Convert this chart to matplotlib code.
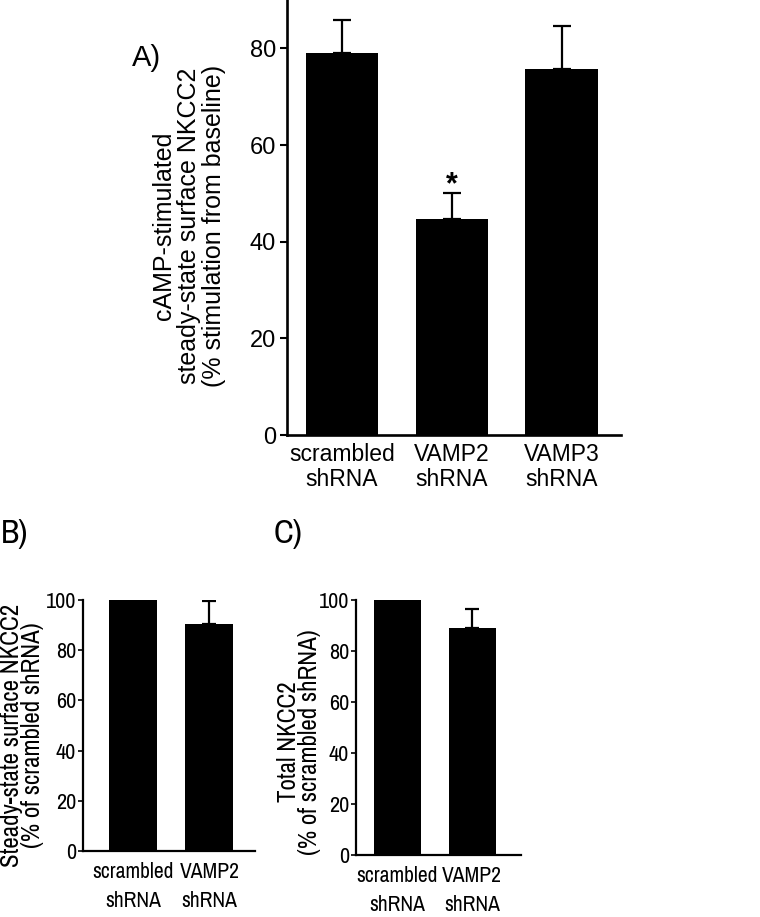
import matplotlib
matplotlib.use("Agg")
import matplotlib.pyplot as plt
import matplotlib.font_manager as fm

plt.rcParams['font.family'] = ['Liberation Sans', 'DejaVu Sans']

# panel A data
a_groups = ['scrambled\nshRNA', 'VAMP2\nshRNA', 'VAMP3\nshRNA']
a_means = [79.0, 44.6, 75.8]
a_err = [6.9, 5.4, 8.9]
a_yticks = [0, 20, 40, 60, 80]

# panel B data
b_groups = ['scrambled\nshRNA', 'VAMP2\nshRNA']
b_means = [100.0, 90.3]
b_err = [0.0, 9.4]

# panel C data
c_groups = ['scrambled\nshRNA', 'VAMP2\nshRNA']
c_means = [100.0, 88.9]
c_err = [0.0, 7.6]

bc_yticks = [0, 20, 40, 60, 80, 100]

# B and C use a narrow face in the original; take one if installed
installed = sorted({f.name for f in fm.fontManager.ttflist})
narrow_fam = [n for n in installed if 'Narrow' in n or 'Condensed' in n]
narrow = narrow_fam[:1] + ['Liberation Sans', 'DejaVu Sans']
squeeze = 1.0 if narrow_fam else 0.82

W, H = 760, 917
fig = plt.figure(figsize=(W / 100, H / 100), dpi=100)


def px_axes(left, top, right, bottom):
    return fig.add_axes([left / W, 1 - bottom / H, (right - left) / W, (bottom - top) / H])


def style(ax, spine_w, tick_len, tick_w, xpad, ypad):
    for s in ['top', 'right']:
        ax.spines[s].set_visible(False)
    for s in ['left', 'bottom']:
        ax.spines[s].set_linewidth(spine_w)
    ax.tick_params(axis='y', length=tick_len, width=tick_w, pad=ypad)
    ax.tick_params(axis='x', length=0, pad=xpad)


def bars(ax, groups, means, err, width, capsize):
    x = list(range(len(groups)))
    ax.bar(x, means, width=width, color='black', zorder=2)
    ax.errorbar(x, means, yerr=[[0] * len(err), err], fmt='none', ecolor='black',
                elinewidth=1.6, capsize=capsize, capthick=1.6, zorder=1)
    ax.set_xticks(x)
    return x


# ---- A ----
axA = px_axes(287, 0, 621, 435)
style(axA, 1.9, 5, 1.5, 6, 3)
xa = bars(axA, a_groups, a_means, a_err, 0.66, 6.5)
axA.set_xticklabels(a_groups, fontsize=16.5, linespacing=1.1)
axA.set_yticks(a_yticks)
axA.set_yticklabels([str(v) for v in a_yticks], fontsize=17)
axA.set_xlim(-0.5, 2.54)
axA.set_ylim(0, 90)
axA.text(xa[1], a_means[1] + a_err[1] - 1.4, '*', ha='center', va='bottom',
         fontsize=22, fontweight='bold')
fig.text(189 / W, 1 - 226 / H,
         'cAMP-stimulated\nsteady-state surface NKCC2\n(% stimulation from baseline)',
         rotation=90, ha='center', va='center', multialignment='center',
         fontsize=18, linespacing=1.05)
fig.text(147 / W, 1 - 58 / H, 'A)', ha='center', va='center', fontsize=21)

fs_xtick = 15.5 * squeeze
fs_ytick = 16 * squeeze
fs_lab = 18 * squeeze

# ---- B ----
axB = px_axes(83, 600, 255, 851)
style(axB, 1.6, 3.5, 1.2, 8, 1.5)
bars(axB, b_groups, b_means, b_err, 0.63, 5)
axB.set_xticklabels(b_groups, fontsize=fs_xtick, linespacing=1.55, family=narrow)
axB.set_yticks(bc_yticks)
axB.set_yticklabels([str(v) for v in bc_yticks], fontsize=fs_ytick, family=narrow)
axB.set_xlim(-0.66, 1.6)
axB.set_ylim(0, 100)
fig.text(22 / W, 1 - 735 / H, 'Steady-state surface NKCC2\n(% of scrambled shRNA)',
         rotation=90, ha='center', va='center', multialignment='center',
         fontsize=fs_lab, linespacing=0.88, family=narrow)
fig.text(15 / W, 1 - 534 / H, 'B)', ha='center', va='center', fontsize=24, family=narrow)

# ---- C ----
axC = px_axes(356, 600, 521, 855)
style(axC, 1.6, 3.5, 1.2, 8, 1.5)
bars(axC, c_groups, c_means, c_err, 0.63, 5)
axC.set_xticklabels(c_groups, fontsize=fs_xtick, linespacing=1.55, family=narrow)
axC.set_yticks(bc_yticks)
axC.set_yticklabels([str(v) for v in bc_yticks], fontsize=fs_ytick, family=narrow)
axC.set_xlim(-0.55, 1.65)
axC.set_ylim(0, 100)
fig.text(299 / W, 1 - 742 / H, 'Total NKCC2\n(% of scrambled shRNA)',
         rotation=90, ha='center', va='center', multialignment='center',
         fontsize=fs_lab, linespacing=0.88, family=narrow)
fig.text(288 / W, 1 - 534 / H, 'C)', ha='center', va='center', fontsize=24, family=narrow)

fig.savefig('out.png', dpi=100)
